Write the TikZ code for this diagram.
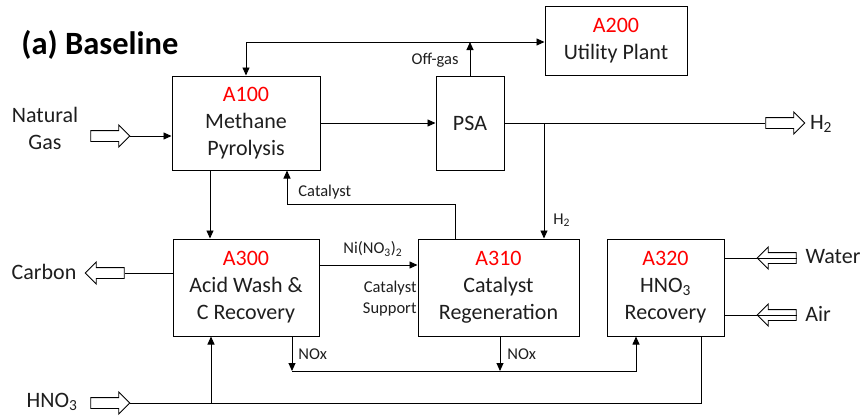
\documentclass[tikz,border=0pt]{standalone}
\usepackage{fontspec}
\setmainfont{Carlito}
\usetikzlibrary{arrows.meta,shapes.arrows}
\definecolor{txt}{RGB}{30,30,30}
\definecolor{redA}{RGB}{255,0,0}
\begin{document}
\begin{tikzpicture}[x=1pt,y=-1pt,
  line width=0.9pt,
  box/.style={draw, line width=1pt, align=center, text=txt, inner sep=0pt,
    font=\fontsize{22}{27}\selectfont},
  big/.style={text=txt, align=center, inner sep=0pt, font=\fontsize{22}{27}\selectfont},
  small/.style={text=txt, align=right, inner sep=0pt, font=\fontsize{16.5}{21}\selectfont},
  arr/.style={-{Triangle[length=8pt,width=7pt]}},
  openarrow/.style={single arrow, draw, line width=0.9pt, fill=white,
    minimum height=39pt, minimum width=21pt, single arrow head extend=5.5pt,
    single arrow tip angle=90, inner sep=5pt},
  leftarrow/.style={openarrow, shape border rotate=180}
]
\useasboundingbox (0,0) rectangle (864,418);

% title
\node[anchor=west, inner sep=0pt, font=\bfseries\fontsize{32.5}{38}\selectfont] (title) at (21,45) {(a) Baseline};

% process boxes
\node[box, minimum width=148pt, minimum height=94pt] (a100) at (246,123)
  {\textcolor{redA}{A100}\\Methane\\Pyrolysis};
\node[box, minimum width=68pt, minimum height=94pt] (psa) at (470,123) {PSA};
\node[box, minimum width=142pt, minimum height=69pt] (a200) at (616,41)
  {\textcolor{redA}{A200}\\Utility Plant};
\node[box, minimum width=146pt, minimum height=97pt] (a300) at (246,287.5)
  {\textcolor{redA}{A300}\\Acid Wash \&\\C Recovery};
\node[box, minimum width=161pt, minimum height=97pt] (a310) at (498.5,287.5)
  {\textcolor{redA}{A310}\\Catalyst\\Regeneration};
\node[box, minimum width=117pt, minimum height=97pt] (a320) at (665.5,287.5)
  {\textcolor{redA}{A320}\\HNO\textsubscript{3}\\Recovery};

% open arrows
\node[openarrow] (ng) at (107.5,136) {};
\node[leftarrow] (carb) at (107.5,273) {};
\node[openarrow] (hno3) at (107.5,403) {};
\node[openarrow] (h2out) at (782.5,123) {};
\node[leftarrow] (water) at (779.5,258) {};
\node[leftarrow] (air) at (779.5,315) {};

% stream labels
\node[big] (tng) at (45,128) {Natural\\Gas};
\node[big] (tcarb) at (44,272) {Carbon};
\node[big] (thno3) at (52,402) {HNO\textsubscript{3}};
\node[big] (th2) at (821,124) {H\textsubscript{2}};
\node[big] (twater) at (833,257) {Water};
\node[big] (tair) at (818,314) {Air};

% helper coordinates
\coordinate (offy) at (0,42);
\coordinate (hx) at (544,0);
\coordinate (cat1) at (455,204);
\coordinate (cat2) at (287,204);
\coordinate (x210) at (210,0);
\coordinate (ni) at (0,265);
\coordinate (nox) at (0,371);
\coordinate (x292) at (292,0);
\coordinate (x500) at (500,0);
\coordinate (x636) at (636,0);
\coordinate (x701) at (701,0);
\coordinate (x211) at (211,0);

% connectors
\draw[arr] (ng.tip) -- (ng.tip -| a100.west);
\draw[arr] (a100.east) -- (psa.west);
\draw (psa.east) -- (h2out.tail);
\draw[arr] (psa.north) -- (psa.north |- offy);
\draw[arr] (a100.north |- offy) -- (a200.west |- offy);
\draw[arr] (a100.north |- offy) -- (a100.north);
\draw[arr] (hx |- psa.east) -- (hx |- a310.north);
\draw[arr] (a310.north -| cat1) -- (cat1) -- (cat2) -- (cat2 |- a100.south);
\draw[arr] (a100.south -| x210) -- (a300.north -| x210);
\draw[arr] (a300.east |- ni) -- (a310.west |- ni);
\draw (a300.west |- carb.tail) -- (carb.tail);
\draw[arr] (a300.south -| x292) -- (x292 |- nox);
\draw[arr] (x292 |- nox) -- (x636 |- nox) -- (x636 |- a320.south);
\draw[arr] (a310.south -| x500) -- (x500 |- nox);
\draw (hno3.tip) -- (x701 |- hno3.tip) -- (x701 |- a320.south);
\draw[arr] (x211 |- hno3.tip) -- (x211 |- a300.south);
\draw (a320.east |- water.tail) -- (water.tail);
\draw (a320.east |- air.tail) -- (air.tail);

% small labels
\node[small, anchor=east] (loff) at (459,60) {Off-gas};
\node[small, anchor=west] (lcat) at (298,192) {Catalyst};
\node[small, anchor=west] (lh2) at (553,220) {H\textsubscript{2}};
\node[small, anchor=west] (lni) at (343,249) {Ni(NO\textsubscript{3})\textsubscript{2}};
\node[small, anchor=east] (lsup) at (417,299) {Catalyst\\Support};
\node[small, anchor=west] (lnox1) at (298,354) {NOx};
\node[small, anchor=west] (lnox2) at (507,354) {NOx};
\end{tikzpicture}
\end{document}
